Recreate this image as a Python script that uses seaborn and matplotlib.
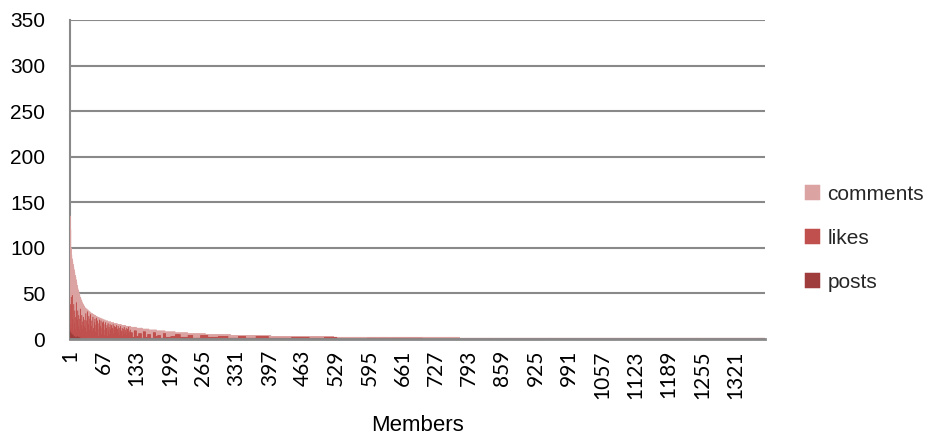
import numpy as np
import pandas as pd
import seaborn as sns
import matplotlib.pyplot as plt

# totals (posts + likes + comments) for the first 30 members
head_total = [135, 120, 100, 92, 88, 85, 82, 79, 76, 73,
              70, 68, 65, 62, 59, 56, 54, 52, 50, 48,
              46, 45, 43, 42, 40, 39, 38, 37, 36, 35]
# rest of the sorted tail as (value, number of members)
tail_total_values = [34, 33, 32, 31, 30, 29, 28, 27, 26, 25, 24, 23, 22, 21, 20, 19, 18,
                     17, 16, 15, 14, 13, 12, 11, 10, 9, 8, 7, 6, 5, 4, 3, 2, 1]
tail_total_counts = [2, 2, 2, 2, 2, 2, 3, 3, 3, 3, 4, 4, 4, 4, 5, 6, 6,
                     7, 8, 9, 10, 11, 12, 13, 15, 17, 20, 25, 35, 50, 80, 125, 250, 606]

# likes for members 1-120
head_likes = [30, 12, 40, 8, 43, 20, 5, 35, 15, 28, 10, 22, 38, 6, 18, 30, 12, 25, 9, 20,
              33, 7, 15, 26, 11, 19, 24, 5, 14, 21, 12, 28, 8, 20, 30, 5, 16, 25, 10, 22,
              27, 6, 14, 20, 9, 24, 12, 4, 18, 22, 8, 15, 23, 6, 20, 11, 3, 17, 21, 9,
              14, 20, 5, 12, 18, 8, 19, 10, 4, 16, 18, 7, 12, 15, 3, 17, 9, 13, 5, 16,
              11, 4, 15, 8, 12, 16, 6, 10, 14, 3, 13, 9, 15, 5, 11, 14, 7, 12, 4, 10,
              14, 6, 9, 12, 3, 11, 8, 13, 5, 10, 7, 12, 4, 9, 11, 6, 13, 3, 8, 10]
tail_likes_values = [7, 2, 9, 3, 6, 1, 8, 2, 5, 1, 7, 3, 4, 1, 6, 2,
                     3, 5, 2, 4, 1, 4, 2, 3, 1, 3, 1, 3, 1,
                     1, 2, 1, 2, 0, 1, 0, 0]
tail_likes_counts = [4, 3, 5, 4, 6, 3, 5, 4, 6, 5, 5, 4, 6, 5, 5, 10,
                     9, 10, 15, 10, 15, 15, 20, 20, 20, 15, 20, 25, 6,
                     40, 35, 30, 25, 60, 110, 75, 605]

# posts for the most active members, zero afterwards
head_posts = [8, 4, 6, 3, 5, 2, 4, 3, 2, 3, 1, 2, 2, 1, 3, 1, 2, 1, 1, 2]

total = np.concatenate([head_total, np.repeat(tail_total_values, tail_total_counts)])
n_members = len(total)
likes = np.concatenate([head_likes, np.repeat(tail_likes_values, tail_likes_counts)])
posts = np.zeros(n_members, dtype=int)
posts[:len(head_posts)] = head_posts
likes = np.minimum(likes, total - posts)
comments = total - likes - posts

df = pd.DataFrame({
    "member": np.arange(1, n_members + 1),
    "posts": posts,
    "likes": likes,
    "comments": comments,
})
df["likes_top"] = df["posts"] + df["likes"]
df["comments_top"] = df["likes_top"] + df["comments"]

sns.set_theme(style="white")
plt.rcParams["font.family"] = ["Liberation Sans", "DejaVu Sans"]

colors = {"comments": "#DBA3A2", "likes": "#C0504D", "posts": "#9E3D3B"}
grid_gray = "#898989"

fig = plt.figure(figsize=(9.3, 4.48), dpi=100)
ax = fig.add_axes([0.0753, 0.2433, 0.7473, 0.7121])

# stacked bars: draw cumulative heights from the top series down
# (thin matching edge so sub-pixel bars still show, like the original export)
for key, col in [("comments_top", "comments"), ("likes_top", "likes"), ("posts", "posts")]:
    sns.barplot(df, x="member", y=key, color=colors[col], label=col, width=0.6,
                errorbar=None, saturation=1, linewidth=0.35, edgecolor=colors[col],
                snap=False, ax=ax, zorder=2)

ax.set_ylim(0, 350)
ax.set_yticks(range(0, 351, 50))
ax.set_xlim(-0.5, n_members - 0.5)
tick_pos = np.arange(0, n_members, 66)
ax.set_xticks(tick_pos)
ax.set_xticklabels([str(p + 1) for p in tick_pos], rotation=90, fontsize=15,
                   family=["Lato", "DejaVu Sans"])
ax.tick_params(axis="x", length=0, pad=8, colors="black")
ax.tick_params(axis="y", length=5.8, width=1.5, color=grid_gray, labelsize=15, pad=12,
               labelcolor="black")

ax.yaxis.grid(True, color=grid_gray, linewidth=1.5)
ax.set_axisbelow(True)
for side in ["top", "right"]:
    ax.spines[side].set_visible(False)
ax.spines["left"].set_color(grid_gray)
ax.spines["left"].set_linewidth(1.5)
ax.spines["left"].set_zorder(1)
ax.spines["bottom"].set_color(grid_gray)
ax.spines["bottom"].set_linewidth(2)
ax.spines["bottom"].set_zorder(3)

ax.set_xlabel("Members", fontsize=16, labelpad=12, color="black")
ax.set_ylabel("")

handles, labels = ax.get_legend_handles_labels()
ax.legend().remove()
fig.legend(handles, labels, loc="center left", bbox_to_anchor=(0.866, 0.468), frameon=False,
           fontsize=15, handlelength=0.7, handleheight=0.7, handletextpad=0.35,
           labelspacing=1.2, borderpad=0, borderaxespad=0)

fig.savefig("out.png", dpi=100)
